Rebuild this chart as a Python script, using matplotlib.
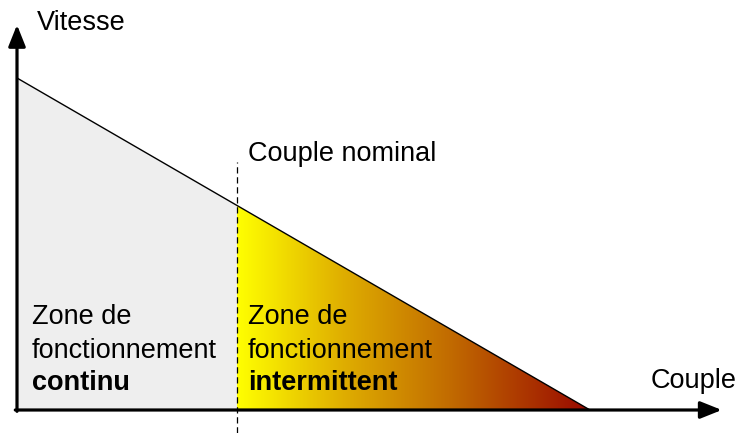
import numpy as np
import matplotlib.pyplot as plt
from matplotlib.colors import LinearSegmentedColormap
from matplotlib.patches import Polygon

plt.rcParams['font.family'] = ['Liberation Sans', 'DejaVu Sans']

# caracteristique couple / vitesse (valeurs normalisees)
couple = [0.0, 1.0]
vitesse = [1.0, 0.0]
couple_nominal = 0.384
couple_axe_max = 1.230
vitesse_axe_max = 1.160

W, H = 738, 433
fig = plt.figure(figsize=(W / 100, H / 100), dpi=100)
ax = fig.add_axes([0, 0, 1, 1])
# 1 unite de couple = 573 px, 1 unite de vitesse = 332 px, origine a (17, 410)
ax.set_xlim(-17 / 573, (W - 17) / 573)
ax.set_ylim((410 - H) / 332, 410 / 332)
ax.axis('off')


def v_at(c):
    return np.interp(c, couple, vitesse)


v_nom = v_at(couple_nominal)

# zone continue (gris clair)
zone_cont = Polygon([(0, 0), (0, vitesse[0]), (couple_nominal, v_nom), (couple_nominal, 0)],
                    closed=True, facecolor='#eeeeee', edgecolor='none', zorder=1)
ax.add_patch(zone_cont)

# zone intermittente (degrade jaune -> rouge fonce)
zone_int = Polygon([(couple_nominal, 0), (couple_nominal, v_nom), (couple[1], 0)],
                   closed=True, facecolor='none', edgecolor='none')
ax.add_patch(zone_int)
cmap = LinearSegmentedColormap.from_list(
    'grad', [(0, '#ffff00'), (0.3, '#dfae00'), (0.6, '#c26c00'), (1, '#990800')])
grad = np.linspace(0, 1, 256).reshape(1, -1)
img = ax.imshow(grad, cmap=cmap, aspect='auto',
                extent=[couple_nominal, couple[1], 0, v_nom], zorder=1)
img.set_clip_path(zone_int)

# droite couple-vitesse
ax.plot(couple, vitesse, color='black', lw=1.0, zorder=3)

# couple nominal
ax.plot([couple_nominal, couple_nominal], [(410 - H) / 332, (410 - 162) / 332],
        color='black', lw=0.9, ls=(0, (5, 3)), zorder=2)

# axes avec fleches
arrow = dict(arrowstyle='-|>,head_length=0.65,head_width=0.26', lw=2.3,
             color='black', mutation_scale=20, shrinkA=0, shrinkB=0)
ax.annotate('', xy=(0, vitesse_axe_max), xytext=(0, -0.004), arrowprops=arrow, zorder=4)
ax.annotate('', xy=(couple_axe_max, 0), xytext=(-0.003, 0), arrowprops=arrow, zorder=4)

fs = 19.5


def px(x, y):
    return x / W, 1 - y / H


fig.text(*px(37, 30), 'Vitesse', fontsize=fs, va='baseline', ha='left')
fig.text(*px(248, 161), 'Couple nominal', fontsize=fs, va='baseline', ha='left')
fig.text(*px(737, 388), 'Couple', fontsize=fs, va='baseline', ha='right')

for x0, mot in [(32, 'continu'), (248, 'intermittent')]:
    fig.text(*px(x0, 324), 'Zone de', fontsize=fs, va='baseline')
    fig.text(*px(x0, 358), 'fonctionnement', fontsize=fs, va='baseline')
    fig.text(*px(x0, 390), mot, fontsize=fs, va='baseline', fontweight='bold')

fig.savefig('out.png', dpi=100)
